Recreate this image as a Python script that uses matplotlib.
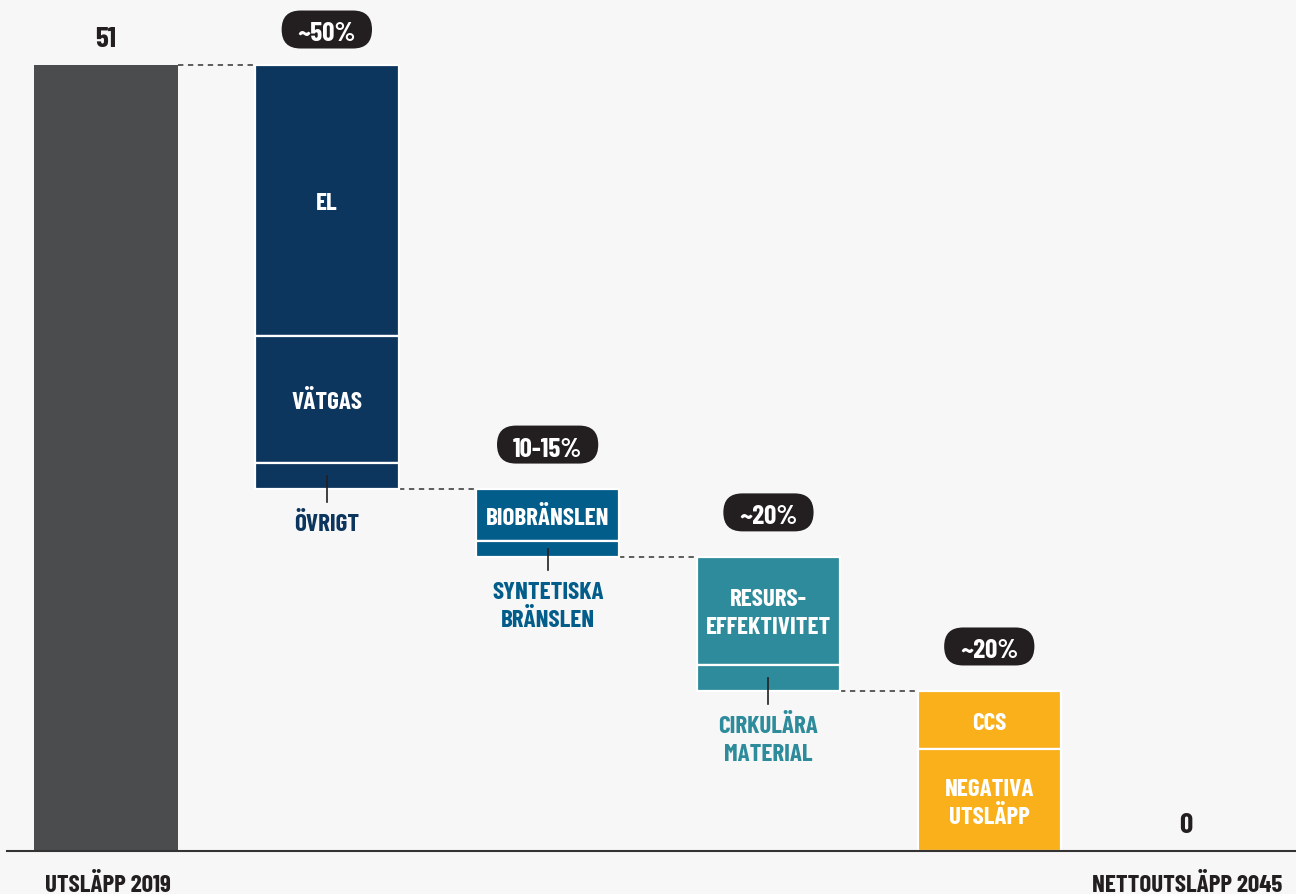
import matplotlib
matplotlib.use('Agg')
import matplotlib.pyplot as plt
from matplotlib.patches import FancyBboxPatch

# Emissions pathway, 51 -> 0
START_LABEL = "UTSLÄPP 2019"
END_LABEL = "NETTOUTSLÄPP 2045"
start_total = 51
end_total = 0

group_names = [
    ["EL", "VÄTGAS", "ÖVRIGT"],
    ["BIOBRÄNSLEN", "SYNTETISKA\nBRÄNSLEN"],
    ["RESURS-\nEFFEKTIVITET", "CIRKULÄRA\nMATERIAL"],
    ["CCS", "NEGATIVA\nUTSLÄPP"],
]
group_values = [
    [17.6, 8.2, 1.7],
    [3.4, 1.0],
    [7.0, 1.7],
    [3.8, 6.6],
]
group_shares = ["~50%", "10-15%", "~20%", "~20%"]

# styling
BG = '#f7f7f7'
DARK = '#231f20'
START_COLOR = '#4b4c4e'
GROUP_COLORS = ['#0d365f', '#025d8a', '#2d8b9b', '#f9b01b']
FONT = ['Barlow Condensed', 'Saira Condensed', 'DejaVu Sans']
BIGFONT = 21
PILLFONT = 19.5
MIDFONT = 18

W_PX, H_PX = 1296, 895
X0, X1 = -0.480, 5.389
Y0, Y1 = -2.79, 55.28
BAR_W = 0.65
SMALL = 2.0   # segments thinner than this are labelled below the bar

fig = plt.figure(figsize=(W_PX / 100, H_PX / 100), dpi=100)
fig.patch.set_facecolor(BG)
ax = fig.add_axes([0, 0, 1, 1])
ax.set_facecolor(BG)
ax.set_xlim(X0, X1)
ax.set_ylim(Y0, Y1)
ax.axis('off')
renderer = fig.canvas.get_renderer()

# px per data unit
x_px = W_PX / (X1 - X0)
y_px = H_PX / (Y1 - Y0)
CAP = 17.5 / y_px     # cap height of MIDFONT
LINE = 28 / y_px      # baseline-to-baseline distance

txt = dict(fontweight='bold', family=FONT)


def put_lines(x, first_base, label, color):
    """Write a label line by line, first baseline at first_base."""
    for i, line in enumerate(label.split('\n')):
        ax.text(x, first_base - i * LINE, line, ha='center', va='baseline',
                fontsize=MIDFONT, color=color, zorder=3, **txt)


# starting bar
ax.bar(0, start_total, width=BAR_W, color=START_COLOR, zorder=2)
ax.text(0, start_total + 1.24, str(start_total), ha='center', va='baseline',
        fontsize=BIGFONT, color=DARK, **txt)

level = start_total
for gi, (names, vals) in enumerate(zip(group_names, group_values)):
    x = gi + 1
    color = GROUP_COLORS[gi]
    top = level

    # dashed connector from previous bar
    ax.plot([x - 1 + BAR_W / 2, x - BAR_W / 2], [top, top], ls=(0, (3.5, 3)),
            color='#333333', lw=1.1, zorder=1)

    for name, v in zip(names, vals):
        bottom = level - v
        ax.bar(x, v, bottom=bottom, width=BAR_W, color=color,
               edgecolor='white', linewidth=1.6, zorder=2)
        mid = bottom + v / 2
        n = name.count('\n') + 1
        if v >= SMALL:
            first = mid + ((n - 1) * LINE + CAP) / 2 - CAP
            put_lines(x, first, name, 'white')
        else:
            ax.plot([x, x], [mid, bottom - 0.85], color=DARK, lw=1.2, zorder=3)
            put_lines(x, bottom - 2.7, name, color)
        level = bottom

    # share pill above the bar
    py = min(top + 2.87, 53.3)
    t = ax.text(x, py - 0.71, group_shares[gi], ha='center', va='baseline',
                fontsize=PILLFONT, color='white', zorder=5, **txt)
    pw = (t.get_window_extent(renderer).width + 32) / x_px
    ph = 38 / y_px
    pill = FancyBboxPatch((x - pw / 2, py - ph / 2), pw, ph,
                          boxstyle='round,pad=0,rounding_size=%f' % (ph / 2 * y_px / x_px),
                          mutation_aspect=x_px / y_px, facecolor=DARK,
                          edgecolor='none', zorder=4)
    ax.add_patch(pill)

# end value
ax.text(4.891, end_total + 1.24, str(end_total), ha='center', va='baseline',
        fontsize=BIGFONT, color=DARK, **txt)

# baseline and axis captions
ax.plot([-0.448, X1], [0, 0], color='#333333', lw=1.5, zorder=6, clip_on=False)
ax.text(-0.276, -2.6, START_LABEL, ha='left', va='baseline', fontsize=MIDFONT,
        color=DARK, **txt)
ax.text(5.326, -2.6, END_LABEL, ha='right', va='baseline', fontsize=MIDFONT,
        color=DARK, **txt)

plt.savefig('out.png', dpi=100, facecolor=BG)
